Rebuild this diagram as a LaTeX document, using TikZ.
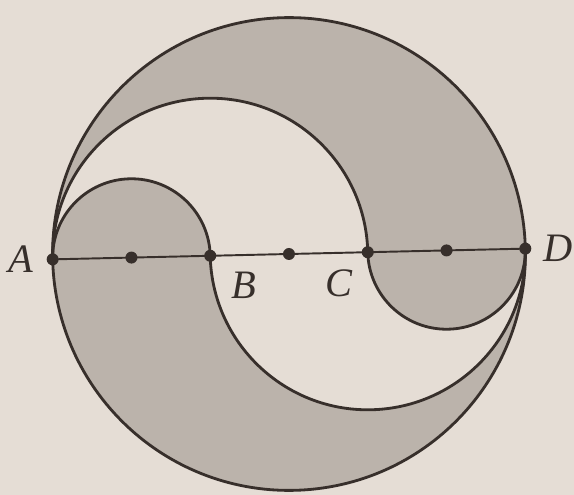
\documentclass[tikz,border=0pt]{standalone}
\usepackage{fontspec}
\setmainfont{Liberation Serif}
\usetikzlibrary{positioning}

\definecolor{paper}{RGB}{229,221,213}
\definecolor{shade}{RGB}{187,179,171}
\definecolor{ink}{RGB}{55,47,43}

\begin{document}
\begin{tikzpicture}[line width=1.6pt, draw=ink,
  region/.style={fill=shade, draw=none},
  outline/.style={draw=ink, line width=1.6pt},
  pt/.style={circle, fill=ink, inner sep=0pt, minimum size=0.24cm},
  lbl/.style={font=\fontsize{23}{26}\selectfont\itshape, text=ink, inner sep=0pt}]

  % Fondo y marco de la imagen
  \fill [paper] (-5.78,-4.82) rectangle (5.70,5.08);
  \useasboundingbox (-5.78,-4.82) rectangle (5.70,5.08);

  \begin{scope}[rotate=1.3]
  % Puntos sobre el diametro AD
  \coordinate (A) at (-4.728,0);
  \coordinate (AB) at (-3.152,0);
  \coordinate (B) at (-1.576,0);
  \coordinate (BC) at (0,0);
  \coordinate (C) at (1.576,0);
  \coordinate (CD) at (3.152,0);
  \coordinate (D) at (4.728,0);

  % Region sombreada superior
  \path [region] (A) arc[start angle=180, end angle=0, radius=4.728]
    arc[start angle=0, end angle=-180, radius=1.576]
    arc[start angle=0, end angle=180, radius=3.152] -- cycle;

  % Region sombreada inferior
  \path [region] (A) arc[start angle=180, end angle=360, radius=4.728]
    arc[start angle=0, end angle=-180, radius=3.152]
    arc[start angle=0, end angle=180, radius=1.576] -- cycle;

  % Contornos
  \draw [outline] (BC) circle[radius=4.728];
  \draw [outline] (C) arc[start angle=0, end angle=180, radius=3.152];
  \draw [outline] (B) arc[start angle=0, end angle=180, radius=1.576];
  \draw [outline] (D) arc[start angle=0, end angle=-180, radius=3.152];
  \draw [outline] (D) arc[start angle=0, end angle=-180, radius=1.576];
  \draw [outline, line width=1.1pt] (A) -- (D);

  % Puntos marcados
  \foreach \p in {A, AB, B, BC, C, CD, D}
    \node [pt] (dot\p) at (\p) {};

  % Etiquetas
  \node [lbl, left=0.22cm of dotA] (labA) {A};
  \node [lbl, right=0.18cm of dotD] (labD) {D};
  \node [lbl] (labB) at ([shift={(0.66,-0.6)}]B) {B};
  \node [lbl] (labC) at ([shift={(-0.58,-0.6)}]C) {C};
  \end{scope}
\end{tikzpicture}
\end{document}
